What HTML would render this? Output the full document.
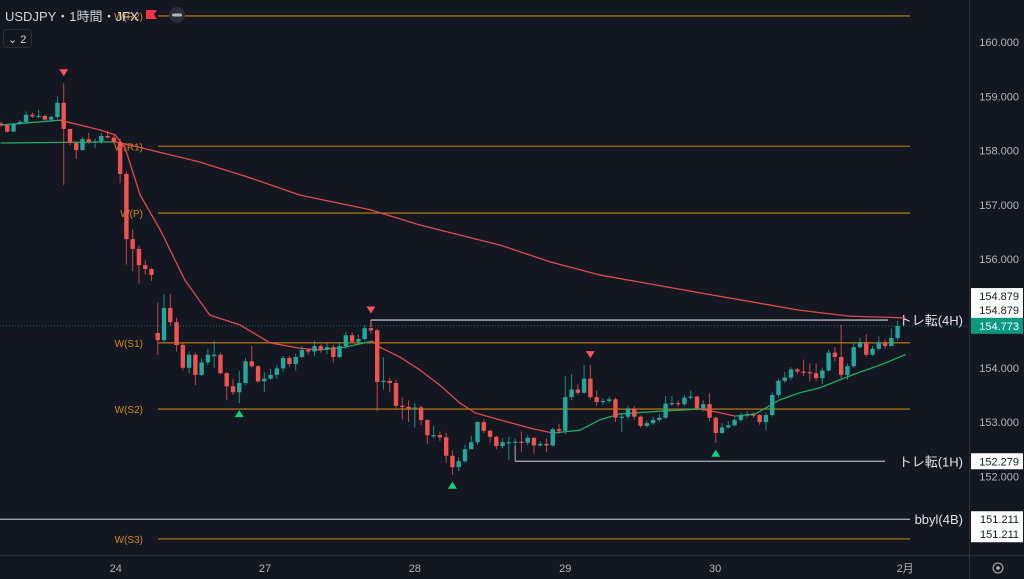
<!DOCTYPE html>
<html><head><meta charset="utf-8">
<style>
body{margin:0;background:#131722;width:1024px;height:579px;overflow:hidden;font-family:"Liberation Sans","Noto Sans CJK JP",sans-serif}
svg{display:block}
</style></head>
<body>
<svg id="chart" width="1024" height="579" xmlns="http://www.w3.org/2000/svg" font-family="Liberation Sans, Noto Sans CJK JP, sans-serif">
<rect x="0" y="0" width="1024" height="579" fill="#131722"/>
<g id="levels"></g><g id="mas"></g><g id="candles"></g><g id="marks"></g><g id="axis"></g>
<text x="5" y="21" font-size="13" fill="#d1d4dc">USDJPY・1時間・JFX</text>
<path d="M146 10 h11 l-3 4.5 l3 4.5 h-11 z" fill="#f23645"/>
<circle cx="177" cy="15" r="8" fill="#2a2e39"/>
<rect x="172" y="13.5" width="10" height="3" rx="1.5" fill="#b2b5be"/>
<rect x="3.5" y="29.5" width="28" height="18" rx="3" fill="none" stroke="#2a2e39"/>
<text x="8" y="43" font-size="11" fill="#d1d4dc">⌄ 2</text>
<line x1="969.5" y1="0" x2="969.5" y2="579" stroke="#2a2e39"/>
<line x1="0" y1="555.5" x2="1024" y2="555.5" stroke="#2a2e39"/>
<circle cx="998" cy="568" r="5" fill="none" stroke="#b2b5be"/>
<circle cx="998" cy="568" r="1.8" fill="#b2b5be"/>
</svg>
<script>
const closes=[158.47,158.35,158.49,158.53,158.66,158.63,158.64,158.57,158.62,158.88,158.40,158.14,158.01,158.21,158.16,158.17,158.27,158.24,158.16,157.57,156.37,156.19,155.89,155.82,155.71,154.51,155.10,154.84,154.42,154.00,154.24,153.87,154.10,154.24,154.24,153.90,153.66,153.55,153.72,154.12,154.03,153.75,153.80,153.87,153.99,154.18,154.07,154.20,154.33,154.30,154.40,154.33,154.38,154.20,154.40,154.60,154.48,154.53,154.73,154.69,153.74,153.76,153.72,153.30,153.28,153.25,153.27,153.04,152.76,152.76,152.72,152.38,152.17,152.28,152.50,152.63,153.00,152.84,152.73,152.56,152.63,152.63,152.64,152.62,152.71,152.57,152.60,152.57,152.87,152.84,153.46,153.60,153.54,153.80,153.46,153.37,153.39,153.42,153.08,153.10,153.25,153.10,152.93,152.98,153.04,153.08,153.34,153.35,153.33,153.45,153.47,153.25,153.33,153.08,152.80,152.90,152.94,153.04,153.12,153.14,153.13,153.00,153.13,153.50,153.76,153.82,153.97,153.93,153.92,153.90,153.81,153.95,154.28,154.20,153.87,154.03,154.38,154.47,154.24,154.35,154.46,154.40,154.55,154.77];
const highs=[158.53,158.48,158.51,158.56,158.72,158.70,158.75,158.66,158.65,159.00,159.24,158.30,158.15,158.25,158.33,158.22,158.32,158.37,158.28,158.22,157.62,156.55,156.25,155.98,155.84,155.20,155.35,155.36,154.92,154.45,154.30,154.28,154.17,154.35,154.50,154.28,153.92,153.80,153.95,154.18,154.40,154.05,153.92,153.98,154.05,154.22,154.22,154.26,154.40,154.35,154.50,154.43,154.45,154.42,154.48,154.66,154.65,154.62,154.78,154.87,154.72,154.20,153.82,153.78,153.45,153.40,153.35,153.30,153.05,152.93,152.83,152.80,152.48,152.35,152.58,152.75,153.02,153.05,152.86,152.75,152.70,152.73,152.70,152.83,152.76,152.72,152.65,152.70,152.90,152.97,153.85,153.88,153.70,154.05,154.05,153.58,153.44,153.47,153.45,153.15,153.30,153.30,153.12,153.03,153.10,153.15,153.48,153.48,153.40,153.50,153.58,153.48,153.40,153.53,153.10,152.98,153.02,153.08,153.17,153.20,153.18,153.15,153.18,153.55,153.80,153.92,154.01,154.00,154.15,154.08,154.08,154.00,154.33,154.38,154.79,154.08,154.45,154.55,154.62,154.40,154.58,154.52,154.72,154.87];
const lows=[158.44,158.33,158.34,158.47,158.51,158.60,158.60,158.55,158.53,158.58,157.37,158.10,157.85,158.00,158.12,158.05,158.13,158.22,158.12,157.40,155.90,155.78,155.55,155.72,155.60,154.24,154.45,154.78,154.30,153.95,153.90,153.68,153.85,154.05,154.00,153.88,153.40,153.50,153.35,153.68,154.00,153.72,153.55,153.78,153.80,153.92,154.02,153.95,154.18,154.25,154.22,154.28,154.25,154.10,154.18,154.35,154.45,154.45,154.50,154.63,153.20,153.60,153.55,153.25,153.05,153.00,152.90,152.95,152.60,152.70,152.65,152.25,152.03,152.10,152.25,152.50,152.58,152.80,152.62,152.50,152.52,152.30,152.58,152.45,152.58,152.42,152.55,152.45,152.55,152.78,152.78,153.40,153.50,153.52,153.42,153.30,153.32,153.35,153.00,152.82,153.05,153.05,152.90,152.90,152.95,153.00,153.05,153.30,153.28,153.30,153.42,153.22,153.20,153.02,152.62,152.78,152.88,152.92,153.00,153.08,153.08,152.95,152.85,153.10,153.45,153.72,153.78,153.88,153.85,153.75,153.75,153.70,153.93,154.12,153.80,153.78,154.00,154.35,154.20,154.22,154.32,154.35,154.40,154.50];
const firstOpen=158.50;
const gapIndex=25, gapOpen=154.64;
const fastIdx=[0,9.4,15.8,18.2,19.8,22.2,25.4,29.3,33.3,38.1,42.9,47.7,50.9,54.9,59.2,60.4,63.6,66.8,70,73.2,75.6,79.6,84.4,88,92.3,95.5,98.7,105,111.5,113.9,117.1,120.3,124.2,127.4,130.6,133.8,137,140.2,144.2];
const fastMA=[158.47,158.56,158.38,158.29,158.05,157.18,156.54,155.62,154.97,154.79,154.46,154.36,154.33,154.38,154.49,154.38,154.20,153.96,153.68,153.35,153.17,153.04,152.89,152.80,152.85,153.04,153.15,153.20,153.24,153.19,153.11,153.15,153.41,153.54,153.63,153.78,153.92,154.05,154.24];
const slowIdx=[0,18.2,20.6,31.7,39.7,47.7,58.9,66.8,79.6,87.6,95.5,111.5,127.4,135.4,144.2];
const slowMA=[158.14,158.16,158.10,157.79,157.50,157.18,156.91,156.63,156.26,155.95,155.71,155.38,155.06,154.95,154.92];
const pivotNames=["W(R2)","W(R1)","W(P)","W(S1)","W(S2)","W(S3)"];
const pivotValues=[160.48,158.08,156.85,154.46,153.24,150.85];
const priceTicks=[160,159,158,157,156,155,154,153,152];
const timeLabels=["24","27","28","29","30","2月"];
const timeIdx=[18.3,42.1,66,90,113.9,144.2];
const downMarks=[10,59,94];
const upMarks=[38,72,114];
const trend4H=154.879, trend4HStart=59;
const trend1H=152.279, trend1HStart=82;
const bbyl=151.211, lastPrice=154.773;

const NS="http://www.w3.org/2000/svg";
const X=i=>1+i*6.27;
const Y=p=>42+(160-p)*54.3;
function mk(parent,tag,attrs){const e=document.createElementNS(NS,tag);for(const k in attrs)e.setAttribute(k,attrs[k]);parent.appendChild(e);return e;}
const G=id=>document.getElementById(id);
const UP="#26a69a",DN="#ef5350",OR="#c27d0e",GR="#d1d4dc";

// pivot levels
pivotValues.forEach((v,k)=>{
  const l=mk(G('levels'),'line',{x1:158,x2:910,y1:Y(v),y2:Y(v),stroke:OR,'stroke-width':1.3,opacity:0.85});
  
  
  const t=mk(G('levels'),'text',{x:143,y:Y(v)+4,'text-anchor':'end','font-size':10,fill:'#d08a16'});
  t.textContent=pivotNames[k];
  
  
});
// current price dotted
let cp=mk(G('levels'),'line',{x1:0,x2:969,y1:Y(lastPrice),y2:Y(lastPrice),stroke:'#26a69a','stroke-dasharray':'1 2',opacity:0.6});


// trend lines
function hline(v,x1,x2,name,label){
  const l=mk(G('levels'),'line',{x1:x1,x2:x2,y1:Y(v),y2:Y(v),stroke:'#b2b5be','stroke-width':1.3});
  
  
  if(label){const t=mk(G('levels'),'text',{x:963,y:Y(v)+5,'text-anchor':'end','font-size':13,fill:'#e0e3eb'});t.textContent=label;
  
  }
}
hline(trend4H,X(trend4HStart),888,'trend-4h-line','トレ転(4H)');
let tv=mk(G('levels'),'line',{x1:X(trend4HStart),x2:X(trend4HStart),y1:Y(trend4H),y2:Y(trend4H)+7,stroke:'#b2b5be'});


hline(trend1H,X(trend1HStart),885,'trend-1h-line','トレ転(1H)');
let tv2=mk(G('levels'),'line',{x1:X(trend1HStart),x2:X(trend1HStart),y1:Y(trend1H)-16,y2:Y(trend1H),stroke:'#b2b5be'});


hline(bbyl,0,910,'bbyl-line','bbyl(4B)');

// moving averages colored by slope
function drawMA(idx,vals,name){
  for(let k=0;k<idx.length-1;k++){
    const col=vals[k+1]>=vals[k]?'#22ab5e':'#e04a4a';
    const l=mk(G('mas'),'line',{x1:X(idx[k]),y1:Y(vals[k]),x2:X(idx[k+1]),y2:Y(vals[k+1]),stroke:col,'stroke-width':1.3,'stroke-linecap':'round'});
    
    
  }
}
drawMA(fastIdx,fastMA,'fast-ma-segment');
drawMA(slowIdx,slowMA,'slow-ma-segment');

// candles
closes.forEach((c,i)=>{
  const o=i===0?firstOpen:(i===gapIndex?gapOpen:closes[i-1]);
  const col=c>=o?UP:DN;
  const x=X(i);
  const w=mk(G('candles'),'line',{x1:x,x2:x,y1:Y(highs[i]),y2:Y(lows[i]),stroke:col,'stroke-width':1,opacity:0.8});
  
  
  const top=Y(Math.max(o,c)),bot=Y(Math.min(o,c));
  const b=mk(G('candles'),'rect',{x:x-2.2,y:top,width:4.4,height:Math.max(1.2,bot-top),fill:col});
  
  
});
// markers
downMarks.forEach(i=>{const x=X(i),y=Y(highs[i])-10;
  const p=mk(G('marks'),'path',{d:`M${x-4.5} ${y-4} h9 l-4.5 7 z`,fill:'#f7525f'});
  
  });
upMarks.forEach(i=>{const x=X(i),y=Y(lows[i])+10;
  const p=mk(G('marks'),'path',{d:`M${x-4.5} ${y+4} h9 l-4.5 -7 z`,fill:'#0fd47a'});
  
  });

// price axis
const A=G('axis');
let bg=mk(A,'rect',{x:970,y:0,width:54,height:555,fill:'#131722'});


priceTicks.forEach(v=>{const t=mk(A,'text',{x:1019,y:Y(v)+4,'text-anchor':'end','font-size':11,fill:'#b2b5be'});t.textContent=v.toFixed(3);
  
  });
function box(v,dy,fill,tc,name){
  const r=mk(A,'rect',{x:971,y:Y(v)-8+dy,width:52,height:16,fill:fill});
  
  
  const t=mk(A,'text',{x:1019,y:Y(v)+4+dy,'text-anchor':'end','font-size':11,fill:tc});t.textContent=v.toFixed(3);
  
  
}
box(trend4H,-24,'#ffffff','#131722','trend-4h-price-box');
box(trend4H,-10,'#ffffff','#131722','trend-4h-price-box-2');
box(lastPrice,0,'#089981','#ffffff','last-price-box');
box(trend1H,0,'#ffffff','#131722','trend-1h-price-box');
box(bbyl,0,'#ffffff','#131722','bbyl-price-box');
box(bbyl,15,'#ffffff','#131722','bbyl-price-box-2');
// time axis
timeLabels.forEach((s,k)=>{const t=mk(A,'text',{x:X(timeIdx[k]),y:572,'text-anchor':'middle','font-size':11,fill:'#b2b5be'});t.textContent=s;
  
  });
</script>
</body></html>
